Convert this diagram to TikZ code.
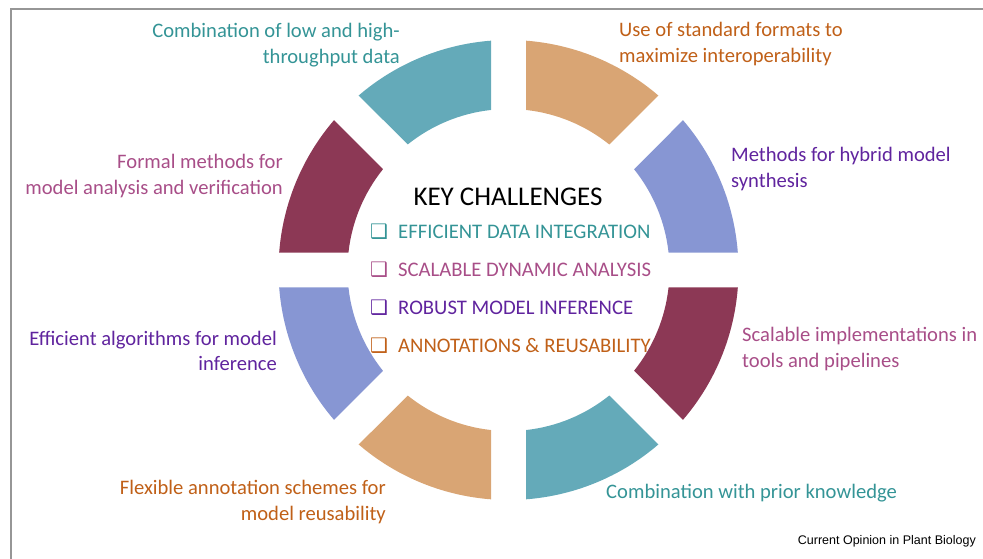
\documentclass[tikz,border=0pt]{standalone}
\usepackage{fontspec}
\setmainfont{Carlito}
\newfontfamily\creditFont{Liberation Sans}
\newfontfamily\boxFont{DejaVu Sans}
\usetikzlibrary{positioning}
\tikzstyle{canvas} = [x = 1pt, y = -1pt]
\definecolor{ringTeal}{RGB}{100,170,185}
\definecolor{ringOrange}{RGB}{217,165,116}
\definecolor{ringBlue}{RGB}{135,150,211}
\definecolor{ringMaroon}{RGB}{140,56,85}
\definecolor{textTeal}{RGB}{52,148,150}
\definecolor{textOrange}{RGB}{192,96,24}
\definecolor{textPurple}{RGB}{96,36,158}
\definecolor{textMauve}{RGB}{168,78,136}
\definecolor{frameGray}{RGB}{150,150,150}
\tikzstyle{labelText} = [inner sep = 0, font = \fontsize{20.6}{25.5}\selectfont]
\tikzstyle{labelLeft} = [labelText, anchor = east, align = right]
\tikzstyle{labelRight} = [labelText, anchor = west, align = left]
\tikzstyle{challengeText} = [inner sep = 0, anchor = west, font = \fontsize{20.7}{24}\selectfont]
\tikzstyle{checkBox} = [inner sep = 0, font = \boxFont\bfseries\fontsize{20}{20}\selectfont]
\newcommand{\outerR}{230}
\newcommand{\innerR}{161}
\newcommand{\gapHalf}{17.5}
\newcommand{\ringSegment}[2]{
  \pgfmathsetmacro{\outerStart}{#1 + asin(\gapHalf / \outerR)}
  \pgfmathsetmacro{\outerEnd}{#1 + 45 - asin(\gapHalf / \outerR)}
  \pgfmathsetmacro{\innerStart}{#1 + asin(\gapHalf / \innerR)}
  \pgfmathsetmacro{\innerEnd}{#1 + 45 - asin(\gapHalf / \innerR)}
  \fill [#2] (\outerStart:\outerR) arc [start angle = \outerStart, end angle = \outerEnd, radius = \outerR]
    -- (\innerEnd:\innerR) arc [start angle = \innerEnd, end angle = \innerStart, radius = \innerR] -- cycle;
}
\newcommand{\challenge}[4]{
  \node [checkBox, text = #3] (#1Box) at (379, #2) {❑};
  \node [challengeText, text = #3] (#1) at (398, #2) {#4};
}

\begin{document}
\begin{tikzpicture}[canvas]
  \useasboundingbox (0,0) rectangle (983,559);
  \draw [frameGray, line width = 1.5pt] (983,9) -- (11,9) -- (11,559);

  % ring, angles run clockwise because y points down
  \begin{scope}[shift = {(508.5,270)}]
    \foreach \angle/\segColor in {0/ringMaroon, 45/ringTeal, 90/ringOrange, 135/ringBlue,
                                  180/ringMaroon, 225/ringTeal, 270/ringOrange, 315/ringBlue} {
      \ringSegment{\angle}{\segColor}
    }
  \end{scope}

  \node [inner sep = 0, font = \fontsize{27}{27}\selectfont] (keyTitle) at (508,197) {KEY CHALLENGES};
  \challenge{dataIntegration}{232}{textTeal}{EFFICIENT DATA INTEGRATION}
  \challenge{dynamicAnalysis}{270}{textMauve}{SCALABLE DYNAMIC ANALYSIS}
  \challenge{modelInference}{308}{textPurple}{ROBUST MODEL INFERENCE}
  \challenge{reusability}{346}{textOrange}{ANNOTATIONS \& REUSABILITY}

  \node [labelLeft, text = textTeal] (lowHigh) at (400,45) {Combination of low and high-\\throughput data};
  \node [labelRight, text = textOrange] (standardFormats) at (619,44) {Use of standard formats to\\maximize interoperability};
  \node [labelLeft, text = textMauve] (formalMethods) at (283,176) {Formal methods for\\model analysis and verification};
  \node [labelRight, text = textPurple] (hybridSynthesis) at (731,169) {Methods for hybrid model\\synthesis};
  \node [labelLeft, text = textPurple] (inferenceAlgorithms) at (277,351) {Efficient algorithms for model\\inference};
  \node [labelRight, text = textMauve] (scalableTools) at (742,349) {Scalable implementations in\\tools and pipelines};
  \node [labelLeft, text = textOrange] (annotationSchemes) at (386,502) {Flexible annotation schemes for\\model reusability};
  \node [labelRight, text = textTeal] (priorKnowledge) at (606,493) {Combination with prior knowledge};

  \node [inner sep = 0, anchor = east, font = \creditFont\fontsize{12.5}{13}\selectfont] (credit) at (976,541) {Current Opinion in Plant Biology};
\end{tikzpicture}
\end{document}
